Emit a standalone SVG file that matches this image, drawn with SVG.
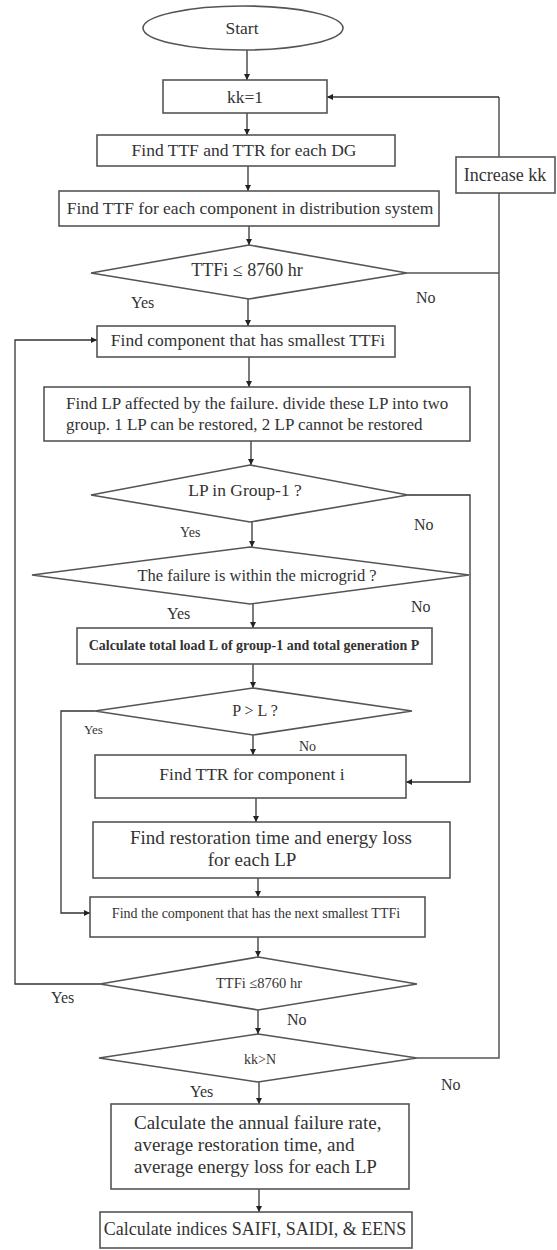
<svg xmlns="http://www.w3.org/2000/svg" width="557" height="1250" viewBox="0 0 557 1250">
<defs>
<marker id="ah" viewBox="0 0 10 10" refX="10" refY="5" markerWidth="6" markerHeight="7" markerUnits="userSpaceOnUse" orient="auto">
<path d="M0,0 L10,5 L0,10 z" fill="#222"/>
</marker>
<style>
.s{fill:#fff;stroke:#555;stroke-width:1.6}
.c{fill:none;stroke:#555;stroke-width:1.5}
.a{fill:none;stroke:#333;stroke-width:1.3;marker-end:url(#ah)}
text{font-family:"Liberation Serif","Times New Roman",serif;fill:#333}
.m{text-anchor:middle;font-size:17.5px}
.l{font-size:16px}
</style>
</defs>
<rect width="557" height="1250" fill="#fff"/>
<g id="connectors">
<line class="a" x1="247" y1="50" x2="247" y2="80"/>
<line class="a" x1="247" y1="113" x2="247" y2="135"/>
<line class="a" x1="248" y1="166" x2="248" y2="191"/>
<line class="a" x1="249" y1="226" x2="249" y2="245"/>
<line class="a" x1="248" y1="299" x2="248" y2="326"/>
<line class="a" x1="249" y1="357" x2="249" y2="387"/>
<line class="a" x1="251" y1="441" x2="251" y2="465"/>
<line class="a" x1="252" y1="522" x2="252" y2="547"/>
<line class="a" x1="253" y1="604" x2="253" y2="628"/>
<line class="a" x1="253" y1="664" x2="253" y2="688"/>
<line class="a" x1="253" y1="735" x2="253" y2="755"/>
<line class="a" x1="256" y1="798" x2="256" y2="822"/>
<line class="a" x1="258" y1="878" x2="258" y2="897"/>
<line class="a" x1="258" y1="937" x2="258" y2="957"/>
<line class="a" x1="258" y1="1010" x2="258" y2="1034"/>
<line class="a" x1="259" y1="1082" x2="259" y2="1104"/>
<line class="a" x1="259" y1="1189" x2="259" y2="1212"/>
<polyline class="c" points="417,1058 499,1058 499,97"/>
<polyline class="a" points="499,97 327,97"/>
<line class="c" x1="407" y1="273" x2="499" y2="273"/>
<polyline class="a" points="100,984 15,984 15,340 97,340"/>
<polyline class="a" points="408,495 470,495 470,782 406,782"/>
<polyline class="a" points="95,711 61,711 61,913 90,913"/>
</g>
<g id="start"><ellipse class="s" cx="243" cy="28" rx="100" ry="22"/><text class="m" x="242" y="34">Start</text></g>
<g id="kk1"><rect class="s" x="163" y="80" width="164" height="33"/><text class="m" x="245" y="103">kk=1</text></g>
<g id="increase"><rect class="s" x="456" y="157" width="99" height="36"/><text class="m" x="505" y="181" style="font-size:18px">Increase kk</text></g>
<g id="ttfdg"><rect class="s" x="97" y="135" width="298" height="31"/><text class="m" x="244" y="156">Find TTF and TTR for each DG</text></g>
<g id="ttfcomp"><rect class="s" x="59" y="191" width="380" height="35"/><text class="m" x="250" y="214">Find TTF for each component in distribution system</text></g>
<g id="d1"><polygon class="s" points="249,245 407,273 249,299 91,273"/><text class="m" x="247" y="276" style="font-size:18px">TTFi ≤ 8760 hr</text>
<text class="l" x="131" y="308">Yes</text><text class="l" x="416" y="303">No</text></g>
<g id="smallest"><rect class="s" x="97" y="326" width="298" height="31"/><text class="m" x="248" y="346">Find component that has smallest TTFi</text></g>
<g id="findlp"><rect class="s" x="44" y="387" width="426" height="54"/>
<text x="66" y="409" style="font-size:17px">Find LP affected by the failure. divide these LP into two</text>
<text x="66" y="430" style="font-size:17px">group. 1 LP can be restored, 2 LP cannot be restored</text></g>
<g id="d2"><polygon class="s" points="250,465 408,495 250,522 91,495"/><text class="m" x="245" y="496">LP in Group-1 ?</text>
<text x="180" y="537" style="font-size:14px">Yes</text><text class="l" x="414" y="530">No</text></g>
<g id="d3"><polygon class="s" points="250,547 469,575 250,604 32,575"/><text class="m" x="257" y="581" style="font-size:16.5px">The failure is within the microgrid ?</text>
<text class="l" x="167" y="619">Yes</text><text class="l" x="411" y="612">No</text></g>
<g id="calcload"><rect class="s" x="77" y="628" width="355" height="36"/><text class="m" x="254" y="650" style="font-size:14px;font-weight:bold">Calculate total load L of group-1 and total generation P</text></g>
<g id="d4"><polygon class="s" points="253,688 412,711 253,735 95,711"/><text class="m" x="255" y="716" style="font-size:16px">P &gt; L ?</text>
<text x="84" y="734" style="font-size:13px">Yes</text><text x="299" y="751" style="font-size:14px">No</text></g>
<g id="ttr"><rect class="s" x="95" y="755" width="311" height="43"/><text class="m" x="252" y="780">Find TTR for component i</text></g>
<g id="restoration"><rect class="s" x="93" y="822" width="357" height="56"/>
<text class="m" x="271" y="844" style="font-size:19px">Find restoration time and energy loss</text>
<text class="m" x="252" y="866" style="font-size:19px">for each LP</text></g>
<g id="nextsmallest"><rect class="s" x="90" y="897" width="335" height="40"/><text class="m" x="256" y="918" style="font-size:14px">Find the component that has the  next smallest TTFi</text></g>
<g id="d5"><polygon class="s" points="258,957 417,984 258,1010 100,984"/><text class="m" x="259" y="988" style="font-size:14.5px">TTFi ≤8760 hr</text>
<text class="l" x="51" y="1003">Yes</text><text class="l" x="287" y="1025">No</text></g>
<g id="d6"><polygon class="s" points="258,1034 417,1058 258,1082 99,1058"/><text class="m" x="260" y="1064" style="font-size:14px">kk&gt;N</text>
<text class="l" x="441" y="1090">No</text><text class="l" x="190" y="1097">Yes</text></g>
<g id="annual"><rect class="s" x="111" y="1104" width="298" height="85"/>
<text x="134" y="1129" style="font-size:19px">Calculate the annual failure rate,</text>
<text x="134" y="1151" style="font-size:19px">average restoration time, and</text>
<text x="134" y="1173" style="font-size:19px">average energy loss for each LP</text></g>
<g id="indices"><rect class="s" x="100" y="1212" width="312" height="36"/><text class="m" x="255" y="1235" style="font-size:18px">Calculate indices SAIFI, SAIDI, &amp; EENS</text></g>
</svg>
